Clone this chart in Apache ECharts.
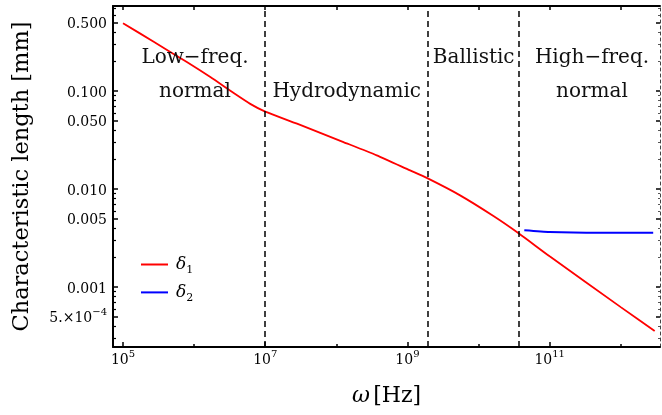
<!DOCTYPE html>
<html><head><meta charset="utf-8">
<script src="https://cdn.jsdelivr.net/npm/echarts@6/dist/echarts.min.js"></script>
<style>html,body{margin:0;padding:0;background:#fff}#c{width:662px;height:415px}</style>
</head><body><div id="c"></div>
<script>
// ---- data ----
const omega1 = [1e5, 2.7e5, 7.9e5, 1.69e6, 3.6e6, 6.15e6, 1e7, 2.8e7, 1.26e8, 3.7e8, 1.09e9, 1.87e9, 5.5e9, 1.62e10, 3.7e10, 1e11, 1e12, 3e12];
const delta1 = [0.494, 0.319, 0.198, 0.139, 0.0955, 0.0741, 0.0617, 0.0465, 0.0302, 0.0221, 0.0155, 0.0130, 0.00863, 0.00531, 0.00352, 0.00206, 0.000624, 0.000356];
const omega2 = [4.4e10, 1.0e11, 5.1e11, 2.86e12];
const delta2 = [0.0038, 0.00365, 0.00359, 0.00359];
const seriesNames = ['δ1', 'δ2'];
const boundaries = [1e7, 1.9e9, 3.7e10];
const regionLabels = [['Low−freq.', 'normal'], ['Hydrodynamic'], ['Ballistic'], ['High−freq.', 'normal']];
const xTickValues = [1e5, 1e7, 1e9, 1e11];
const xTickLabels = ['10^5', '10^7', '10^9', '10^11'];
const xMinorValues = [1e6, 1e8, 1e10, 1e12];
const yTickValues = [0.5, 0.1, 0.05, 0.01, 0.005, 0.001, 0.0005];
const yTickLabels = ['0.500', '0.100', '0.050', '0.010', '0.005', '0.001', '5.×10^−4'];
const xTitle = 'ω [Hz]';
const yTitle = 'Characteristic length [mm]';

// ---- helpers ----
const L = Math.log10;
const X_MIN = 4.859, X_MAX = 12.552;
const Y_MIN = -3.612, Y_MAX = -0.131;
const FONT = 'DejaVu Serif';
const yMinor = [];
for (let k = -4; k <= 0; k++) for (let m = 1; m <= 9; m++) {
  const v = m * Math.pow(10, k);
  if (yTickValues.some(t => Math.abs(L(t) - L(v)) < 1e-9)) continue;
  if (L(v) > Y_MIN && L(v) < Y_MAX) yMinor.push(L(v));
}
const xAllDecades = [];
for (let k = 5; k <= 12; k++) xAllDecades.push(k);

function richLabel(s) {
  const p = s.split('^');
  return p.length > 1 ? '{b|' + p[0] + '}{s|' + p[1] + '}' : '{b|' + s + '}';
}
const labRich = {
  b: {fontSize: 14, fontFamily: FONT, color: '#000', lineHeight: 18, verticalAlign: 'bottom'},
  s: {fontSize: 10, fontFamily: FONT, color: '#000', lineHeight: 18, verticalAlign: 'top'}
};
function findLabel(vals, labels, v) {
  for (let i = 0; i < vals.length; i++) if (Math.abs(L(vals[i]) - v) < 1e-6) return richLabel(labels[i]);
  return '';
}
const titleParts = xTitle.split(' ');

const chart = echarts.init(document.getElementById('c'), null, {renderer: 'canvas'});
const axisBase = {type: 'value', splitLine: {show: false}, gridIndex: 0};

chart.setOption({
  animation: false,
  backgroundColor: '#fff',
  grid: {left: 113, right: 2, top: 6, bottom: 68, containLabel: false},
  legend: {
    orient: 'vertical', left: 141, top: 256, padding: 0, itemWidth: 27, itemHeight: 2, itemGap: 8.4,
    icon: 'rect',
    data: seriesNames,
    formatter: n => '{d|' + n[0] + '}{s|' + n.slice(1) + '}',
    textStyle: {
      padding: [0, 0, 0, 3],
      rich: {
        d: {fontSize: 17, fontStyle: 'italic', fontFamily: FONT, color: '#000', lineHeight: 22, verticalAlign: 'middle'},
        s: {fontSize: 11, fontFamily: FONT, color: '#000', lineHeight: 22, verticalAlign: 'bottom'}
      }
    }
  },
  xAxis: [
    Object.assign({}, axisBase, {
      min: X_MIN, max: X_MAX, position: 'bottom',
      axisLine: {show: true, onZero: false, lineStyle: {color: '#000', width: 2}},
      axisTick: {show: true, inside: true, length: 5, customValues: xTickValues.map(L), lineStyle: {color: '#000', width: 1.5}},
      axisLabel: {show: true, margin: 2, customValues: xTickValues.map(L),
        formatter: v => findLabel(xTickValues, xTickLabels, v), rich: labRich},
      name: '{w|' + titleParts[0] + '} {b|' + titleParts[1] + '}', nameLocation: 'middle', nameGap: 38,
      nameTextStyle: {rich: {
        w: {fontSize: 22, fontStyle: 'italic', fontFamily: FONT, color: '#000'},
        b: {fontSize: 22, fontFamily: FONT, color: '#000'}}}
    }),
    Object.assign({}, axisBase, {
      min: X_MIN, max: X_MAX, position: 'bottom',
      axisLine: {show: false, onZero: false},
      axisTick: {show: true, inside: true, length: 3, customValues: xMinorValues.map(L), lineStyle: {color: '#000', width: 1.5}},
      axisLabel: {show: false}
    }),
    Object.assign({}, axisBase, {
      min: X_MIN, max: X_MAX, position: 'top',
      axisLine: {show: true, onZero: false, lineStyle: {color: '#000', width: 2}},
      axisTick: {show: true, inside: true, length: 4, customValues: xAllDecades, lineStyle: {color: '#000', width: 1.5}},
      axisLabel: {show: false}
    })
  ],
  yAxis: [
    Object.assign({}, axisBase, {
      min: Y_MIN, max: Y_MAX, position: 'left',
      axisLine: {show: true, onZero: false, lineStyle: {color: '#000', width: 2}},
      axisTick: {show: true, inside: true, length: 5, customValues: yTickValues.map(L), lineStyle: {color: '#000', width: 1.5}},
      axisLabel: {show: true, margin: 6, customValues: yTickValues.map(L),
        formatter: v => findLabel(yTickValues, yTickLabels, v), rich: labRich},
      name: yTitle, nameLocation: 'middle', nameGap: 79,
      nameTextStyle: {fontSize: 22.5, fontFamily: FONT, color: '#000'}
    }),
    Object.assign({}, axisBase, {
      min: Y_MIN, max: Y_MAX, position: 'left',
      axisLine: {show: false, onZero: false},
      axisTick: {show: true, inside: true, length: 3, customValues: yMinor, lineStyle: {color: '#000', width: 1.2}},
      axisLabel: {show: false}
    }),
    Object.assign({}, axisBase, {
      min: Y_MIN, max: Y_MAX, position: 'right',
      axisLine: {show: true, onZero: false, lineStyle: {color: '#444', width: 1, type: [3, 3]}},
      axisTick: {show: true, inside: true, length: 4, customValues: yTickValues.map(L), lineStyle: {color: '#000', width: 1.5}},
      axisLabel: {show: false}
    }),
    Object.assign({}, axisBase, {
      min: Y_MIN, max: Y_MAX, position: 'right',
      axisLine: {show: false, onZero: false},
      axisTick: {show: true, inside: true, length: 2, customValues: yMinor, lineStyle: {color: '#555', width: 1}},
      axisLabel: {show: false}
    })
  ],
  series: [
    {
      name: seriesNames[0], type: 'line', xAxisIndex: 0, yAxisIndex: 0,
      data: omega1.map((w, i) => [L(w), L(delta1[i])]),
      showSymbol: false, symbol: 'none', smooth: 0.2,
      lineStyle: {color: '#ff0000', width: 1.8}, itemStyle: {color: '#ff0000'},
      markLine: {
        silent: true, symbol: 'none', label: {show: false},
        lineStyle: {color: '#000', width: 1.5, type: [6, 4]},
        data: boundaries.map(b => ({xAxis: L(b)}))
      }
    },
    {
      name: seriesNames[1], type: 'line', xAxisIndex: 0, yAxisIndex: 0,
      data: omega2.map((w, i) => [L(w), L(delta2[i])]),
      showSymbol: false, symbol: 'none', smooth: 0.2,
      lineStyle: {color: '#0000ff', width: 2}, itemStyle: {color: '#0000ff'}
    }
  ],
  graphic: (function () {
    const centers = [[195, 58], [346.7, 92], [473.7, 58], [592, 58]];
    const out = [];
    regionLabels.forEach((lines, i) => {
      lines.forEach((t, j) => {
        const y = (i === 1) ? centers[i][1] : centers[i][1] + j * 34;
        out.push({type: 'text', silent: true, z: 100,
          style: {text: t, x: centers[i][0], y: y, textAlign: 'center', textVerticalAlign: 'middle',
            font: '20px "DejaVu Serif"', fill: '#111'}});
      });
    });
    return out;
  })()
});
</script></body></html>
